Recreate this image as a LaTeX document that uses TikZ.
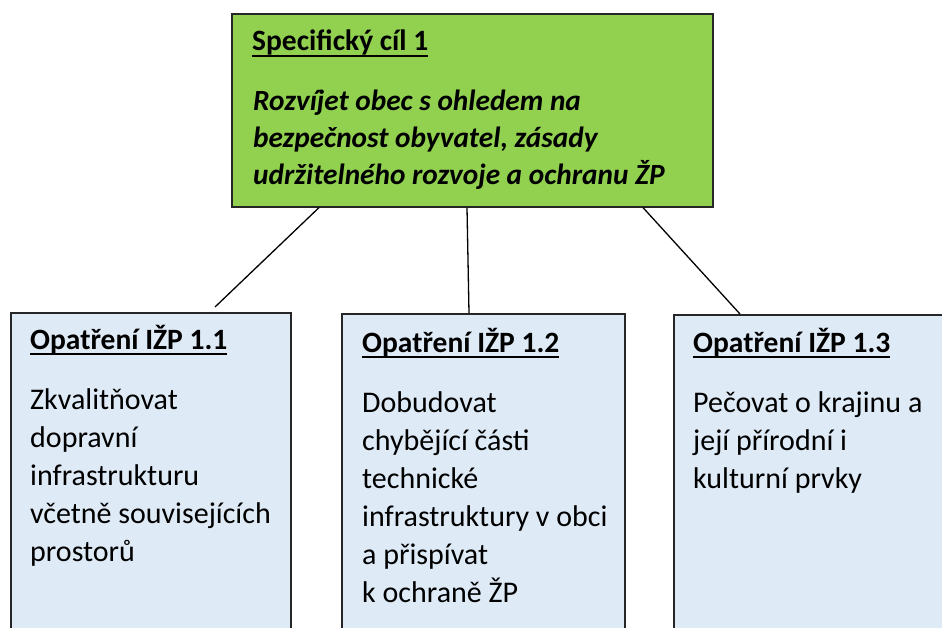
\documentclass[tikz,border=0pt]{standalone}
\usepackage{fontspec}
\setmainfont{Carlito}
\usetikzlibrary{calc}
\definecolor{goalgreen}{HTML}{92D050}
\definecolor{boxblue}{HTML}{DEEAF6}
\definecolor{edge}{HTML}{262626}
\newcommand\hdul[1]{\setbox0\hbox{#1}\rlap{\rule[-6.3pt]{\wd0}{2pt}}\box0}
\newcommand\txtlines[1]{\parbox[t]{600pt}{\raggedright #1}}
\tikzset{
  goalbox/.style={draw=edge, line width=1.6pt, fill=goalgreen, anchor=north west, inner sep=0pt},
  measbox/.style={draw=edge, line width=1.5pt, fill=boxblue, anchor=north west, inner sep=0pt},
  hd/.style={anchor=base west, inner sep=0pt, font=\fontsize{29.5}{30}\selectfont\bfseries},
  gtxt/.style={anchor=base west, inner sep=0pt, font=\fontsize{29.3}{37}\selectfont\bfseries\itshape},
  btxt/.style={anchor=base west, inner sep=0pt, font=\fontsize{30}{38}\selectfont},
  link/.style={draw=black, line width=1.3pt}
}
\begin{document}
\begin{tikzpicture}[x=1pt,y=-1pt]
\clip (0,0) rectangle (942,628);
\fill[white] (0,0) rectangle (942,628);
\node[goalbox, minimum width=481pt, minimum height=193pt] (goal) at (231,13) {};
\node[measbox, minimum width=280pt, minimum height=340pt] (m1) at (10,312) {};
\node[measbox, minimum width=283pt, minimum height=340pt] (m2) at (341,313) {};
\node[measbox, minimum width=290pt, minimum height=340pt] (m3) at (673,314) {};

\node[hd] (goalhd) at (252,51) {\hdul{Specifický cíl 1}};
\node[gtxt] (goaltxt) at (253,111) {\txtlines{Rozvíjet obec s ohledem na\\bezpečnost obyvatel, zásady\\udržitelného rozvoje a ochranu ŽP}};

\node[hd] (m1hd) at (30,349) {\hdul{Opatření IŽP 1.1}};
\node[btxt] (m1txt) at (30,409) {\txtlines{Zkvalitňovat\\dopravní\\infrastrukturu\\včetně souvisejících\\prostorů}};

\node[hd] (m2hd) at (362,352) {\hdul{Opatření IŽP 1.2}};
\node[btxt] (m2txt) at (362,412) {\txtlines{Dobudovat\\chybějící části\\technické\\infrastruktury v obci\\a přispívat\\k~ochraně ŽP}};

\node[hd] (m3hd) at (693,352) {\hdul{Opatření IŽP 1.3}};
\node[btxt] (m3txt) at (693,412) {\txtlines{Pečovat o krajinu a\\její přírodní i\\kulturní prvky}};

\coordinate (m1end) at ($(m1.north west)+(205,-5)$);
\draw[link] ($(goal.south west)+(88,0)$) -- (m1end);
\draw[link] ($(goal.south west)+(236,0)$) -- ($(m2.north west)+(128,0)$);
\draw[link] ($(goal.south west)+(412,0)$) -- ($(m3.north west)+(67,0)$);
\end{tikzpicture}
\end{document}
